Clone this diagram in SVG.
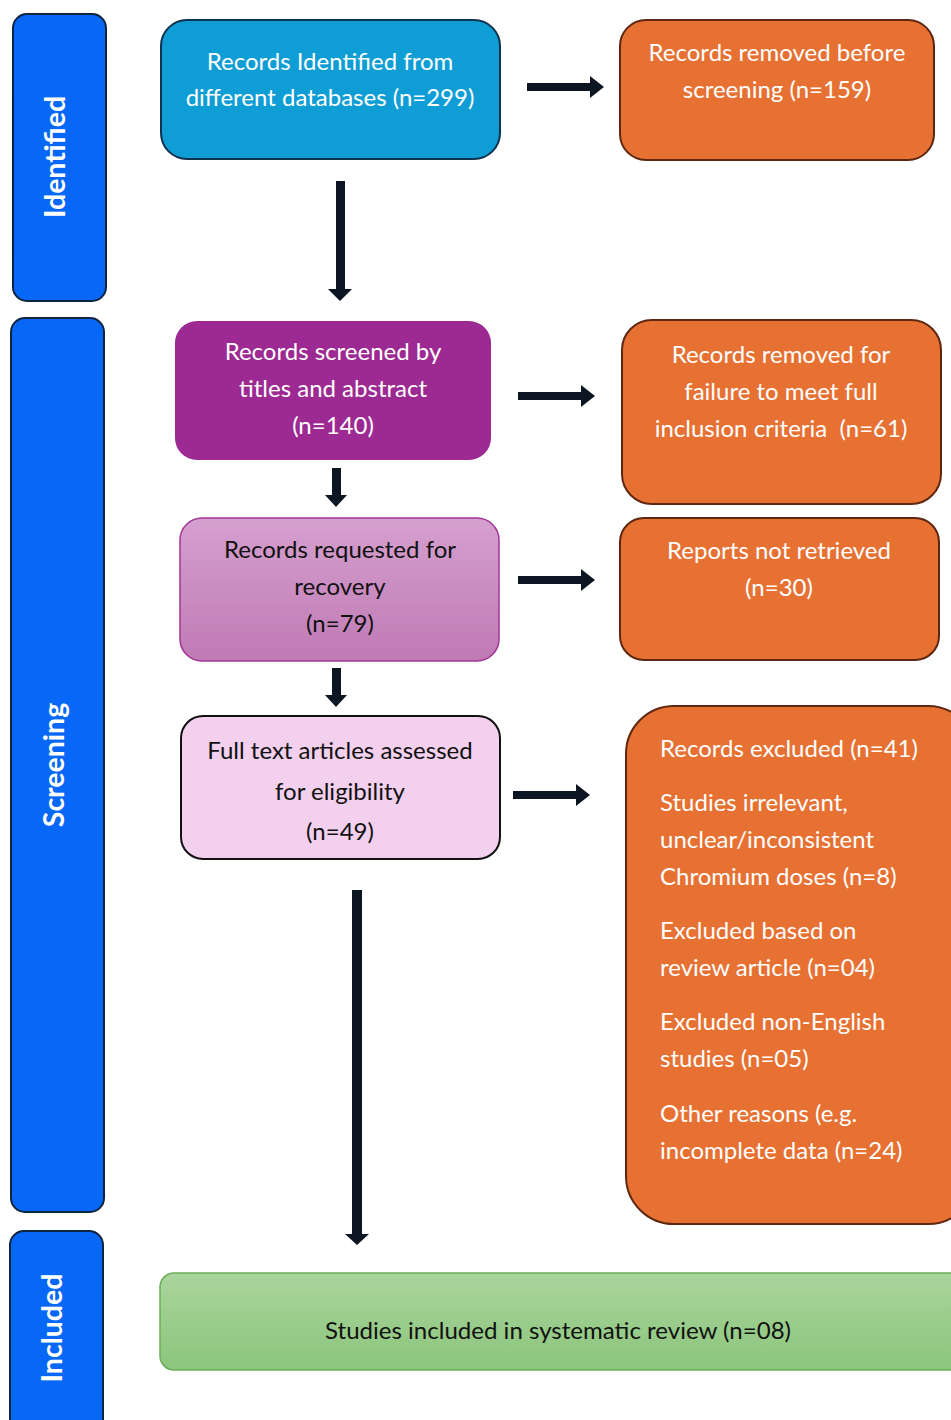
<svg xmlns="http://www.w3.org/2000/svg" width="951" height="1420" viewBox="0 0 951 1420">
<defs>
<linearGradient id="gPink" x1="0" y1="0" x2="0" y2="1"><stop offset="0" stop-color="#D5A0CF"/><stop offset="1" stop-color="#C07AB4"/></linearGradient>
<linearGradient id="gGreen" x1="0" y1="0" x2="0" y2="1"><stop offset="0" stop-color="#AAD59D"/><stop offset="1" stop-color="#8BC57B"/></linearGradient>
<style>
.side{fill:#0767F6;stroke:#0B2440;stroke-width:2}
.sidet{fill:#fff;font-family:Lato,"Open Sans",sans-serif;font-weight:bold;font-size:28.5px;text-anchor:middle}
.t{font-family:Lato,"Open Sans",sans-serif;font-size:24px;text-anchor:middle}
.w{fill:#fff}
.d{fill:#111}
.orange{fill:#E77133;stroke:#5E2710;stroke-width:2}
.arrow{fill:#0B1622}
</style>
</defs>
<rect width="951" height="1420" fill="#fff"/>

<g id="side-identified"><rect class="side" x="13" y="14" width="93" height="287" rx="14"/><text class="sidet" transform="translate(65,157) rotate(-90)">Identified</text></g>
<g id="side-screening"><rect class="side" x="11" y="318" width="93" height="894" rx="14"/><text class="sidet" transform="translate(64,765) rotate(-90)">Screening</text></g>
<g id="side-included"><rect class="side" x="10" y="1231" width="93" height="210" rx="14"/><text class="sidet" transform="translate(62,1328) rotate(-90)">Included</text></g>

<g id="identified"><rect x="161" y="20" width="339" height="139" rx="26" fill="#0F9DD5" stroke="#0E3250" stroke-width="2"/>
<text class="t w" x="330" y="70">Records Identified from</text><text class="t w" x="330" y="106">different databases (n=299)</text></g>

<g id="removed-before"><rect class="orange" x="620" y="20" width="314" height="140" rx="26"/>
<text class="t w" x="777" y="61">Records removed before</text><text class="t w" x="777" y="98">screening (n=159)</text></g>

<g id="screened"><rect x="175" y="321" width="316" height="139" rx="22" fill="#9C2A92"/>
<text class="t w" x="333" y="360">Records screened by</text><text class="t w" x="333" y="397">titles and abstract</text><text class="t w" x="333" y="434">(n=140)</text></g>

<g id="removed-criteria"><rect class="orange" x="622" y="320" width="319" height="184" rx="30"/>
<text class="t w" x="781" y="363">Records removed for</text><text class="t w" x="781" y="400">failure to meet full</text><text class="t w" x="781" y="437">inclusion criteria&#160; (n=61)</text></g>

<g id="requested"><rect x="180" y="518" width="319" height="143" rx="22" fill="url(#gPink)" stroke="#A23596" stroke-width="1.5"/>
<text class="t d" x="340" y="558">Records requested for</text><text class="t d" x="340" y="595">recovery</text><text class="t d" x="340" y="632">(n=79)</text></g>

<g id="not-retrieved"><rect class="orange" x="620" y="518" width="319" height="142" rx="24"/>
<text class="t w" x="779" y="559">Reports not retrieved</text><text class="t w" x="779" y="596">(n=30)</text></g>

<g id="assessed"><rect x="181" y="716" width="319" height="143" rx="22" fill="#F2D0EE" stroke="#111" stroke-width="2"/>
<text class="t d" x="340" y="759">Full text articles assessed</text><text class="t d" x="340" y="800">for eligibility</text><text class="t d" x="340" y="840">(n=49)</text></g>

<g id="excluded"><rect class="orange" x="626" y="706" width="350" height="518" rx="48"/>
<g class="t w" style="text-anchor:start">
<text x="660" y="757">Records excluded (n=41)</text>
<text x="660" y="811">Studies irrelevant,</text>
<text x="660" y="848">unclear/inconsistent</text>
<text x="660" y="885">Chromium doses (n=8)</text>
<text x="660" y="939">Excluded based on</text>
<text x="660" y="976">review article (n=04)</text>
<text x="660" y="1030">Excluded non-English</text>
<text x="660" y="1067">studies (n=05)</text>
<text x="660" y="1122">Other reasons (e.g.</text>
<text x="660" y="1159">incomplete data (n=24)</text>
</g></g>

<g id="included"><rect x="160" y="1273" width="820" height="97" rx="14" fill="url(#gGreen)" stroke="#6BAE58" stroke-width="1.5"/>
<text class="t d" x="558" y="1339" style="font-size:23px" textLength="466" lengthAdjust="spacingAndGlyphs">Studies included in systematic review (n=08)</text></g>

<g id="connectors" class="arrow">
<polygon points="527,83 590,83 590,76 604,87 590,98 590,91 527,91"/>
<polygon points="336,181 345,181 345,289 352,289 340,301 328,289 336,289"/>
<polygon points="518,392 581,392 581,385 595,396 581,407 581,400 518,400"/>
<polygon points="332,468 341,468 341,495 347,495 336,507 325,495 332,495"/>
<polygon points="518,576 581,576 581,569 595,580 581,591 581,584 518,584"/>
<polygon points="332,668 341,668 341,695 347,695 336,707 325,695 332,695"/>
<polygon points="513,791 576,791 576,784 590,795 576,806 576,799 513,799"/>
<polygon points="352,890 362,890 362,1234 369,1234 357,1245 345,1234 352,1234"/>
</g>
</svg>
